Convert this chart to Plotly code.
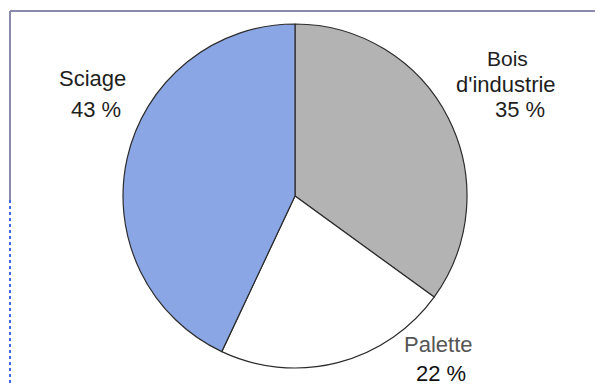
import plotly.graph_objects as go

categories = ["Bois d'industrie", "Palette", "Sciage"]
values = [35, 22, 43]
colors = ["#b3b3b3", "#ffffff", "#8ba6e4"]
label_lines = [["Bois", "d'industrie", "35 %"], ["Palette", "22 %"], ["Sciage", "43 %"]]

W, H = 595, 386
cx, cy, r = 295, 196, 172

fig = go.Figure(go.Pie(
    labels=categories, values=values, sort=False, direction="clockwise",
    rotation=0, textinfo="none", hoverinfo="label+percent",
    marker=dict(colors=colors, line=dict(color="#2b2b2b", width=1.2)),
    domain=dict(x=[(cx - r) / W, (cx + r) / W], y=[(H - cy - r) / H, (H - cy + r) / H]),
    showlegend=False,
))

# label placements (pixel centres, baselines)
placements = [
    [(507, 67), (506, 92), (520, 117)],
    [(438, 352), (441, 381)],
    [(92, 87), (96, 117)],
]
line_colors = [["#1e1e1e"] * 3, ["#555555", "#111111"], ["#1e1e1e"] * 2]
sizes = [[21, 22, 22], [22, 22], [22, 22]]
annotations = []
for lines, pos, cols, szs in zip(label_lines, placements, line_colors, sizes):
    for txt, (x, yb), col, fs in zip(lines, pos, cols, szs):
        annotations.append(dict(
            x=x / W, y=(H - (yb - 8)) / H, xref="paper", yref="paper",
            text=txt, showarrow=False, xanchor="center", yanchor="middle",
            font=dict(family="Liberation Sans, Arial, sans-serif", size=fs, color=col),
        ))

shapes = [
    dict(type="line", xref="paper", yref="paper", x0=10 / W, x1=1, y0=(H - 11) / H, y1=(H - 11) / H,
         line=dict(color="#8a8aaa", width=2)),
    dict(type="line", xref="paper", yref="paper", x0=10 / W, x1=10 / W, y0=(H - 11) / H, y1=(H - 200) / H,
         line=dict(color="#8a8aaa", width=2)),
    dict(type="line", xref="paper", yref="paper", x0=10 / W, x1=10 / W, y0=(H - 200) / H, y1=0,
         line=dict(color="#4466dd", width=2, dash="dot")),
]

fig.update_layout(
    width=W, height=H, margin=dict(l=0, r=0, t=0, b=0),
    paper_bgcolor="white", plot_bgcolor="white",
    annotations=annotations, shapes=shapes,
)
fig.write_html("out.html")
